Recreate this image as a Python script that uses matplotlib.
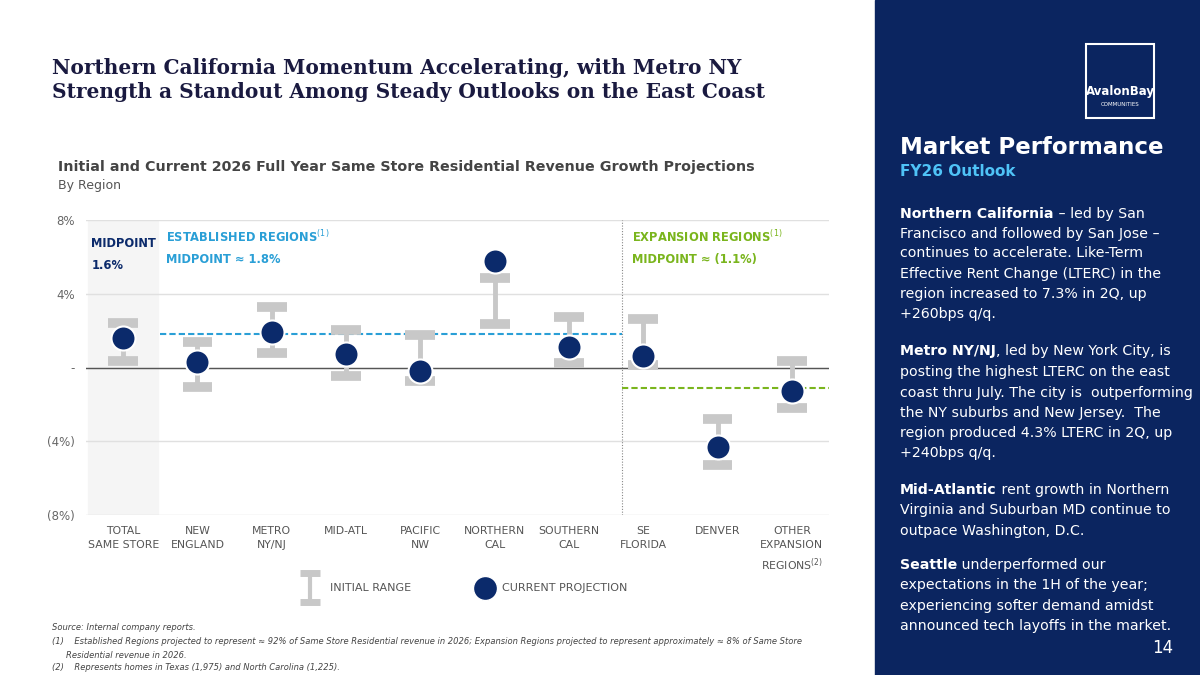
import matplotlib
matplotlib.use("Agg")
import matplotlib.pyplot as plt
from matplotlib.patches import Rectangle

categories = ["TOTAL\nSAME STORE", "NEW\nENGLAND", "METRO\nNY/NJ", "MID-ATL", "PACIFIC\nNW",
              "NORTHERN\nCAL", "SOUTHERN\nCAL", "SE\nFLORIDA", "DENVER", "OTHER\nEXPANSION\nREGIONS$^{(2)}$"]
range_high = [2.4, 1.4, 3.3, 2.05, 1.75, 4.85, 2.75, 2.65, -2.8, 0.35]
range_low = [0.36, -1.05, 0.8, -0.45, -0.75, 2.35, 0.25, 0.15, -5.3, -2.2]
current = [1.6, 0.3, 1.9, 0.75, -0.2, 5.8, 1.1, 0.6, -4.3, -1.3]
established_mid = 1.8
expansion_mid = -1.1
yticks = [8, 4, 0, -4, -8]
ytick_labels = ["8%", "4%", "-", "(4%)", "(8%)"]

W, H = 1200, 675
fig = plt.figure(figsize=(12, 6.75), dpi=100)
fig.patch.set_facecolor("white")
GRAY = "#c8c8c8"

def fx(px): return px / W
def fy(py): return 1 - py / H

# right panel
fig.add_artist(Rectangle((fx(875), 0), 1 - fx(875), 1, transform=fig.transFigure, color="#0b2560", zorder=0))
fig.add_artist(Rectangle((fx(1086), fy(118)), fx(68), 74 / H, transform=fig.transFigure,
                         fill=False, ec="white", lw=1.5))
fig.text(fx(1120), fy(92), "AvalonBay", color="white", fontsize=8.5, ha="center", va="center",
         family="Liberation Sans Narrow", weight="bold")
fig.text(fx(1120), fy(104), "COMMUNITIES", color="white", fontsize=4, ha="center", va="center")
fig.text(fx(900), fy(148), "Market Performance", color="white", fontsize=16.5, weight="bold", va="center")
fig.text(fx(900), fy(172), "FY26 Outlook", color="#4fc3f7", fontsize=11, weight="bold", va="center")

renderer = fig.canvas.get_renderer()
def mixed(x, y, parts, size=10.2):
    cx = fx(x)
    for txt, bold in parts:
        t = fig.text(cx, fy(y), txt, color="white", fontsize=size, va="center",
                     weight="bold" if bold else "normal")
        bb = t.get_window_extent(renderer)
        cx += bb.width / W

lines = [
    (214, [("Northern California", True), (" \u2013 led by San", False)]),
    (234, [("Francisco and followed by San Jose \u2013", False)]),
    (253, [("continues to accelerate. Like-Term", False)]),
    (274, [("Effective Rent Change (LTERC) in the", False)]),
    (294, [("region increased to 7.3% in 2Q, up", False)]),
    (314, [("+260bps q/q.", False)]),
    (351, [("Metro NY/NJ", True), (", led by New York City, is", False)]),
    (372, [("posting the highest LTERC on the east", False)]),
    (393, [("coast thru July. The city is  outperforming", False)]),
    (413, [("the NY suburbs and New Jersey.  The", False)]),
    (433, [("region produced 4.3% LTERC in 2Q, up", False)]),
    (453, [("+240bps q/q.", False)]),
    (490, [("Mid-Atlantic", True), (" rent growth in Northern", False)]),
    (510, [("Virginia and Suburban MD continue to", False)]),
    (531, [("outpace Washington, D.C.", False)]),
    (565, [("Seattle", True), (" underperformed our", False)]),
    (585, [("expectations in the 1H of the year;", False)]),
    (606, [("experiencing softer demand amidst", False)]),
    (626, [("announced tech layoffs in the market.", False)]),
]
for y, parts in lines:
    mixed(900, y, parts)

# titles
fig.text(fx(52), fy(68), "Northern California Momentum Accelerating, with Metro NY",
         family="DejaVu Serif", weight="bold", fontsize=14.5, color="#1a1a40", va="center")
fig.text(fx(52), fy(92), "Strength a Standout Among Steady Outlooks on the East Coast",
         family="DejaVu Serif", weight="bold", fontsize=14.5, color="#1a1a40", va="center")
fig.text(fx(58), fy(167), "Initial and Current 2026 Full Year Same Store Residential Revenue Growth Projections",
         weight="bold", fontsize=10.3, color="#444444", va="center")
fig.text(fx(58), fy(186), "By Region", fontsize=9, color="#555555", va="center")

# chart
ax = fig.add_axes([fx(86), fy(515), fx(829) - fx(86), (515 - 220) / H])
ax.set_xlim(-0.5, 9.5)
ax.set_ylim(-8, 8)
for s in ax.spines.values():
    s.set_visible(False)
for yv in yticks:
    ax.axhline(yv, color="#e0e0e0", lw=1, zorder=1)
ax.axhline(0, color="#555555", lw=1, zorder=1)
ax.axvspan(-0.47, 0.47, color="#f5f5f5", zorder=0)
ax.axvline(6.72, color="#888888", lw=0.8, ls=(0, (1, 1.5)), zorder=1)
ax.plot([0.5, 6.72], [established_mid] * 2, color="#2a9fd6", lw=1.5, ls=(0, (3, 1.5)), zorder=2)
ax.plot([6.72, 9.5], [expansion_mid] * 2, color="#7ab51d", lw=1.5, ls=(0, (3, 1.5)), zorder=2)

xs = list(range(len(categories)))
ax.vlines(xs, range_low, range_high, color=GRAY, lw=3.5, zorder=3)
for x, lo, hi in zip(xs, range_low, range_high):
    ax.hlines([lo, hi], x - 0.2, x + 0.2, color=GRAY, lw=7, zorder=3)
ax.scatter(xs, current, s=300, color="#0b2a6b", edgecolor="white", lw=1.5, zorder=4)

ax.set_yticks(yticks)
ax.set_yticklabels(ytick_labels, fontsize=8.5, color="#666666")
ax.set_xticks(xs)
ax.set_xticklabels(categories, fontsize=7.8, color="#555555", linespacing=1.5, va="top")
ax.tick_params(length=0, pad=8)

ax.text(-0.43, 7.1, "MIDPOINT\n1.6%", color="#0b2a6b", fontsize=8.3, weight="bold",
        ha="left", va="top", linespacing=1.9)
ax.text(0.58, 7.5, "ESTABLISHED REGIONS$^{(1)}$\nMIDPOINT \u2248 1.8%", color="#2a9fd6", fontsize=8.3,
        weight="bold", ha="left", va="top", linespacing=1.8)
ax.text(6.85, 7.5, "EXPANSION REGIONS$^{(1)}$\nMIDPOINT \u2248 (1.1%)", color="#7ab51d", fontsize=8.3,
        weight="bold", ha="left", va="top", linespacing=1.8)

# legend
lax = fig.add_axes([0, 0, 1, 1], facecolor="none")
lax.set_xlim(0, W); lax.set_ylim(H, 0); lax.axis("off")
lax.vlines(310, 573, 602, color=GRAY, lw=3)
lax.hlines([573, 602], 300, 320, color=GRAY, lw=5)
lax.text(330, 588, "INITIAL RANGE", fontsize=8, color="#555555", va="center")
lax.scatter([485], [588], s=300, color="#0b2a6b", edgecolor="white")
lax.text(502, 588, "CURRENT PROJECTION", fontsize=8, color="#555555", va="center")

# footnotes
foot = [
    (628, "Source: Internal company reports.", 52),
    (641, "(1)    Established Regions projected to represent \u2248 92% of Same Store Residential revenue in 2026; Expansion Regions projected to represent approximately \u2248 8% of Same Store", 52),
    (655, "Residential revenue in 2026.", 66),
    (668, "(2)    Represents homes in Texas (1,975) and North Carolina (1,225).", 52),
]
for y, t, x in foot:
    fig.text(fx(x), fy(y), t, fontsize=6.0, style="italic", color="#444444", va="center")
fig.text(fx(1163), fy(648), "14", fontsize=12, color="white", ha="center", va="center")

fig.savefig("out.png", dpi=100)
